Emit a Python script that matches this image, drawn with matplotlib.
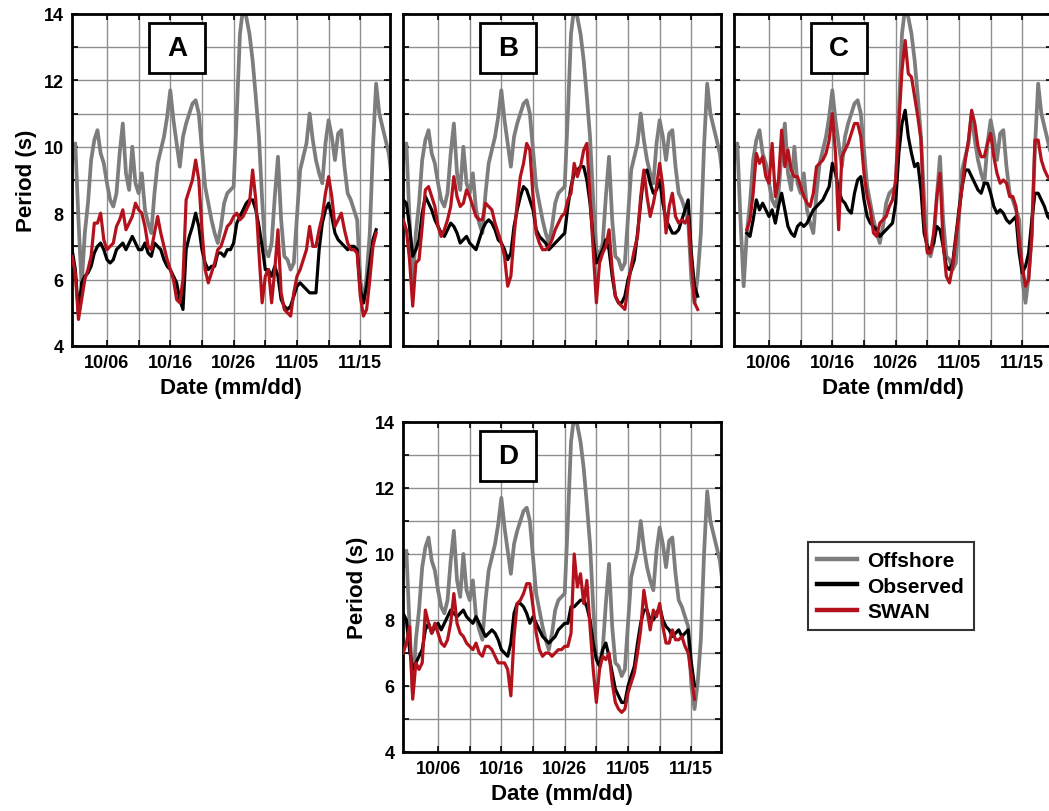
import numpy as np
import pandas as pd
import matplotlib
matplotlib.use("Agg")
import matplotlib.pyplot as plt
import matplotlib.dates as mdates
from matplotlib.patches import Rectangle
from matplotlib.lines import Line2D

plt.rcParams['font.family'] = ['Liberation Sans', 'DejaVu Sans']
plt.rcParams['font.weight'] = 'bold'

# half-day samples starting 09/30 12:00
START = '2012-09-30 12:00'

offshore = [9.6, 10.1, 7.8, 5.8, 7.4, 8.3, 9.6, 10.2, 10.5, 9.8, 9.5, 8.9, 8.4, 8.2, 8.6, 9.8,
            10.7, 9.2, 8.7, 10.0, 8.9, 8.6, 9.2, 8.1, 7.7, 7.4, 8.6, 9.5, 9.9, 10.3, 10.9, 11.7,
            10.8, 10.1, 9.4, 10.3, 10.7, 11.0, 11.3, 11.4, 11.0, 9.9, 8.8, 8.3, 7.8, 7.4, 7.1, 7.6,
            8.3, 8.6, 8.7, 8.8, 11.0, 13.4, 14.2, 13.9, 13.4, 12.6, 11.5, 10.3, 8.4, 6.9, 6.7, 7.1,
            8.5, 9.7, 7.8, 6.7, 6.6, 6.3, 6.5, 7.9, 9.3, 9.7, 10.1, 11.0, 10.2, 9.6, 9.2, 8.9,
            10.1, 10.8, 10.3, 9.6, 10.4, 10.5, 9.4, 8.6, 8.4, 8.1, 7.8, 6.0, 5.3, 6.1, 7.4, 10.0,
            11.9, 11.0, 10.6, 10.2, 9.8, 9.0]

obs_a = [6.9, 6.3, 5.0, 5.9, 6.1, 6.2, 6.4, 6.8, 7.0, 7.1, 6.9, 6.6, 6.5, 6.6, 6.9, 7.0, 7.1,
         6.9, 7.1, 7.3, 7.1, 6.9, 6.9, 7.1, 6.8, 6.7, 7.1, 7.0, 6.9, 6.6, 6.4, 6.3, 6.1, 5.9,
         5.4, 5.1, 6.9, 7.3, 7.6, 8.0, 7.6, 6.9, 6.5, 6.3, 6.4, 6.4, 6.8, 6.8, 6.7, 6.9, 6.9,
         7.1, 7.7, 7.9, 8.1, 8.3, 8.4, 8.4, 8.1, 7.6, 7.0, 6.3, 6.3, 6.1, 6.4, 6.1, 5.4, 5.2,
         5.1, 5.2, 5.5, 5.8, 5.9, 5.8, 5.7, 5.6, 5.6, 5.6, 6.9, 7.7, 8.1, 8.3, 7.9, 7.4, 7.2,
         7.1, 7.0, 6.9, 7.0, 7.0, 6.9, 5.7, 5.3, 5.8, 6.5, 7.2, 7.5]
swan_a = [6.7, 6.2, 4.8, 5.4, 6.0, 6.3, 6.7, 7.7, 7.7, 8.0, 7.2, 6.9, 7.0, 7.1, 7.6, 7.8, 8.1,
          7.5, 7.7, 7.9, 8.3, 8.1, 8.0, 7.6, 7.0, 6.9, 7.4, 7.9, 7.4, 7.0, 6.6, 6.3, 6.0, 5.4,
          5.3, 6.0, 8.4, 8.7, 9.0, 9.6, 9.0, 7.5, 6.3, 5.9, 6.2, 6.5, 6.9, 7.0, 7.3, 7.6, 7.7,
          7.9, 8.0, 7.8, 7.9, 8.1, 8.3, 9.3, 8.4, 6.8, 5.3, 6.1, 6.3, 5.3, 6.3, 7.5, 5.6, 5.1,
          5.0, 4.9, 5.6, 6.1, 6.3, 6.6, 6.9, 7.6, 7.0, 7.0, 7.5, 7.9, 8.6, 9.1, 8.5, 7.6, 7.8,
          8.0, 7.5, 7.1, 6.9, 6.9, 6.8, 5.5, 4.9, 5.1, 6.0, 7.0, 7.4]

obs_b = [8.4, 8.3, 7.6, 6.7, 6.9, 7.2, 8.0, 8.5, 8.3, 8.1, 7.8, 7.6, 7.4, 7.3, 7.5, 7.7, 7.6,
         7.4, 7.1, 7.2, 7.3, 7.1, 7.0, 6.9, 7.2, 7.5, 7.7, 7.8, 7.7, 7.5, 7.2, 7.1, 6.9, 6.6,
         6.8, 7.6, 8.1, 8.5, 8.8, 8.7, 8.4, 8.1, 7.5, 7.3, 7.2, 7.1, 6.9, 7.0, 7.1, 7.2, 7.3,
         7.4, 8.2, 8.8, 9.2, 9.3, 9.4, 9.4, 9.0, 8.3, 7.2, 6.5, 6.7, 6.9, 7.2, 6.9, 6.1, 5.5,
         5.3, 5.3, 5.5, 6.0, 6.3, 6.6, 7.4, 8.3, 9.2, 9.3, 8.9, 8.6, 8.7, 9.0, 8.3, 7.8, 7.6,
         7.4, 7.4, 7.5, 7.8, 8.1, 8.4, 6.8, 5.8, 5.5]
swan_b = [7.8, 7.5, 6.6, 5.2, 6.5, 6.6, 7.6, 8.7, 8.8, 8.5, 8.2, 7.6, 7.3, 7.5, 7.8, 8.2, 9.1,
          8.5, 8.2, 8.3, 8.7, 8.5, 8.2, 7.9, 7.8, 7.8, 8.3, 8.2, 8.1, 7.7, 7.4, 7.1, 6.7, 5.8,
          6.1, 7.3, 8.3, 9.1, 9.5, 10.1, 9.9, 8.5, 7.4, 7.1, 6.9, 6.9, 7.0, 7.2, 7.5, 7.7, 7.9,
          8.0, 8.4, 8.6, 9.5, 9.1, 9.4, 9.9, 10.1, 8.5, 6.9, 5.3, 6.5, 6.8, 7.0, 7.5, 6.3, 5.5,
          5.3, 5.2, 5.1, 5.8, 6.4, 6.9, 7.3, 8.5, 9.3, 8.5, 7.9, 8.3, 8.8, 9.5, 8.8, 7.4, 8.2,
          8.6, 7.9, 7.7, 7.8, 7.7, 7.9, 6.5, 5.3, 5.1]

# panel C series start on 10/02 00:00 (fourth half-day sample)
C_OFFSET = 4
obs_c = [7.4, 7.3, 7.8, 8.4, 8.1, 8.3, 8.1, 7.9, 8.1, 7.7, 8.2, 8.6, 8.1, 7.6, 7.4, 7.3, 7.6,
         7.7, 7.6, 7.7, 7.9, 8.1, 8.2, 8.3, 8.4, 8.6, 8.8, 9.5, 9.2, 8.7, 8.4, 8.3, 8.1, 8.0,
         8.6, 9.0, 9.1, 8.4, 7.9, 7.7, 7.6, 7.5, 7.3, 7.4, 7.5, 7.6, 7.7, 8.3, 9.8, 10.7, 11.1,
         10.3, 9.8, 9.4, 9.5, 8.7, 7.4, 7.0, 6.9, 7.1, 7.6, 7.5, 7.0, 6.4, 6.3, 6.5, 7.3, 8.1,
         8.8, 9.3, 9.3, 9.1, 8.9, 8.7, 8.6, 8.9, 8.9, 8.6, 8.2, 8.0, 8.1, 8.0, 7.8, 7.7, 7.8,
         7.9, 6.8, 6.2, 6.4, 6.8, 7.8, 8.6, 8.6, 8.4, 8.2, 7.9, 7.8, 7.8]
swan_c = [7.5, 7.8, 8.6, 9.8, 9.5, 9.7, 9.1, 8.9, 10.1, 8.5, 9.0, 10.5, 9.4, 9.9, 9.3, 9.1, 9.1,
          8.8, 8.5, 8.3, 8.2, 8.6, 9.4, 9.5, 9.6, 9.8, 10.2, 11.0, 9.8, 7.5, 9.7, 9.9, 10.1, 10.4,
          10.7, 10.7, 10.3, 9.2, 8.5, 8.1, 7.4, 7.3, 7.7, 7.8, 7.9, 8.2, 8.4, 9.0, 10.7, 12.3,
          13.2, 12.2, 12.1, 11.5, 10.9, 10.2, 7.8, 6.8, 6.8, 7.4, 8.5, 9.2, 7.1, 6.1, 5.9, 6.4,
          7.2, 8.0, 8.8, 9.6, 10.2, 11.1, 10.7, 10.0, 9.7, 9.7, 10.1, 10.4, 9.7, 9.2, 8.9, 9.0,
          8.9, 8.5, 8.5, 8.2, 7.2, 6.4, 5.8, 6.0, 7.3, 10.2, 10.2, 9.6, 9.3, 9.1, 9.0, 9.0]

obs_d = [8.2, 8.0, 7.1, 6.5, 6.7, 6.9, 7.1, 7.7, 7.9, 7.6, 7.8, 7.9, 7.7, 7.9, 8.1, 8.3, 8.2,
         8.1, 8.2, 8.3, 8.1, 8.0, 7.9, 8.1, 7.9, 7.7, 7.5, 7.6, 7.7, 7.6, 7.4, 7.1, 7.0, 6.9,
         7.3, 8.2, 8.5, 8.5, 8.4, 8.2, 7.9, 8.1, 7.9, 7.7, 7.5, 7.4, 7.3, 7.4, 7.5, 7.7, 7.8,
         7.9, 7.9, 8.4, 8.4, 8.5, 8.6, 8.6, 8.4, 8.0, 7.3, 6.8, 6.6, 7.1, 7.3, 6.9, 6.4, 5.9,
         5.7, 5.5, 5.5, 6.0, 6.3, 6.6, 7.3, 7.9, 8.3, 8.3, 8.0, 8.0, 8.2, 8.4, 8.0, 7.8, 7.7,
         7.5, 7.6, 7.7, 7.5, 7.6, 7.7, 6.7, 6.0]
swan_d = [7.0, 7.3, 7.8, 5.6, 6.7, 6.5, 6.7, 8.3, 7.9, 7.6, 7.9, 7.6, 7.3, 7.2, 7.4, 7.9, 8.8,
          7.9, 7.6, 7.5, 7.3, 7.2, 7.1, 7.3, 7.0, 6.9, 7.2, 7.2, 7.1, 6.9, 6.7, 6.7, 6.7, 6.5,
          5.7, 7.5, 8.5, 8.6, 8.8, 9.1, 9.1, 8.4, 7.6, 7.1, 6.9, 7.0, 7.0, 6.9, 7.0, 7.1, 7.1,
          7.2, 7.2, 7.6, 10.0, 9.0, 9.4, 8.5, 9.2, 7.8, 6.5, 5.5, 6.5, 6.9, 6.8, 7.0, 6.1, 5.5,
          5.3, 5.2, 5.3, 5.8, 6.1, 6.4, 7.0, 7.7, 8.9, 8.3, 7.7, 8.3, 8.1, 8.5, 7.8, 7.3, 7.3,
          7.7, 7.4, 7.4, 7.5, 7.2, 7.0, 6.3, 5.6]

panel_letters = ['A', 'B', 'C', 'D']
series_names = ['Offshore', 'Observed', 'SWAN']
colors = ['#7d7d7d', '#000000', '#b3121c']
tick_dates = ['2012-10-06', '2012-10-16', '2012-10-26', '2012-11-05', '2012-11-15']
minor_dates = ['2012-10-11', '2012-10-21', '2012-10-31', '2012-11-10']
x_range = ['2012-09-30 11:20', '2012-11-19 17:50']

times = pd.date_range(START, periods=len(offshore), freq='12h')

fig = plt.figure(figsize=(10.49, 8.12), dpi=100)

# axes rectangles in figure fractions
rects = {
    'A': [0.0686, 0.5727, 0.3035, 0.4089],
    'B': [0.3842, 0.5727, 0.3035, 0.4089],
    'C': [0.6997, 0.5727, 0.3035, 0.4089],
    'D': [0.3842, 0.0727, 0.3035, 0.4064],
}
panel_data = {
    'A': (obs_a, swan_a, 0),
    'B': (obs_b, swan_b, 0),
    'C': (obs_c, swan_c, C_OFFSET),
    'D': (obs_d, swan_d, 0),
}
show_x = {'A': True, 'B': False, 'C': True, 'D': True}
show_y = {'A': True, 'B': False, 'C': False, 'D': True}

for key in panel_letters:
    ax = fig.add_axes(rects[key])
    obs, swan, off = panel_data[key]
    ax.plot(times, offshore, color=colors[0], lw=2.7, zorder=2)
    ax.plot(times[off:off + len(obs)], obs, color=colors[1], lw=2.3, zorder=3)
    ax.plot(times[off:off + len(swan)], swan, color=colors[2], lw=2.3, zorder=4)

    ax.set_ylim(4, 14)
    ax.set_xlim(pd.to_datetime(x_range[0]), pd.to_datetime(x_range[1]))
    ax.set_yticks([4, 6, 8, 10, 12, 14])
    ax.set_yticks([5, 7, 9, 11, 13], minor=True)
    ax.set_xticks(mdates.date2num(pd.to_datetime(tick_dates)))
    ax.set_xticks(mdates.date2num(pd.to_datetime(minor_dates)), minor=True)
    ax.xaxis.set_major_formatter(mdates.DateFormatter('%m/%d'))
    ax.grid(True, which='both', color='#8f8f8f', lw=1.0, zorder=1)
    ax.set_axisbelow(True)
    ax.tick_params(which='both', direction='in', top=True, right=True, length=4,
                   width=1.2, labelsize=13, pad=6)
    for sp in ax.spines.values():
        sp.set_linewidth(2.0)

    if show_x[key]:
        ax.set_xlabel('Date (mm/dd)', fontsize=16, fontweight='bold', labelpad=4)
    else:
        ax.tick_params(labelbottom=False)
    if show_y[key]:
        ax.set_ylabel('Period (s)', fontsize=16, fontweight='bold', labelpad=5)
    else:
        ax.tick_params(labelleft=False)
    for lab in ax.get_xticklabels() + ax.get_yticklabels():
        lab.set_fontweight('bold')

    ax.add_patch(Rectangle((0.242, 0.822), 0.176, 0.152, transform=ax.transAxes,
                           facecolor='white', edgecolor='black', lw=2.0, zorder=6))
    ax.text(0.330, 0.898, key, transform=ax.transAxes, ha='center', va='center',
            fontsize=20, fontweight='bold', zorder=7)

handles = [Line2D([], [], color=c, lw=3.2) for c in colors]
leg = fig.legend(handles, series_names, loc='upper left',
                 bbox_to_anchor=(808 / 1049, 1 - 543 / 812), frameon=True,
                 fancybox=False, edgecolor='black', fontsize=15, handlelength=1.9,
                 handletextpad=0.5, borderpad=0.45, labelspacing=0.3, borderaxespad=0)
leg.get_frame().set_linewidth(1.5)
for t in leg.get_texts():
    t.set_fontweight('bold')

fig.savefig('out.png', dpi=100)
